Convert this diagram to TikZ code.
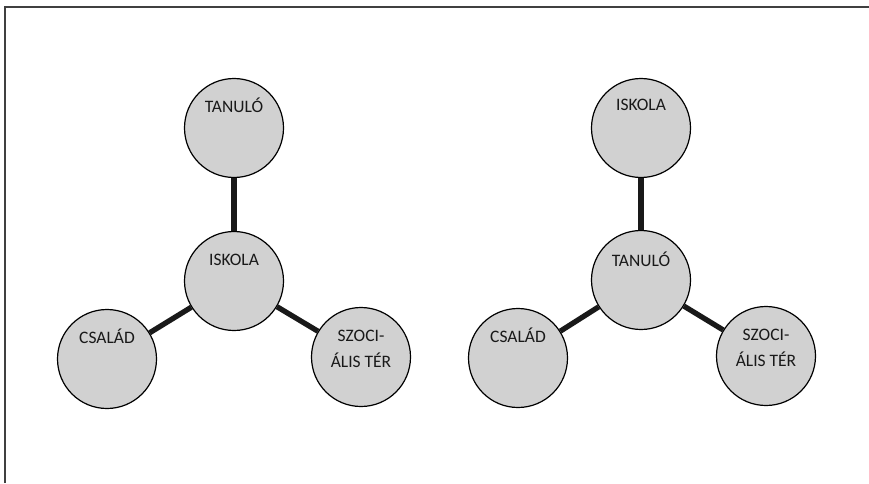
\documentclass[tikz,border=0pt]{standalone}
\usepackage{fontspec}
\setmainfont{Carlito}
\usepackage{tikz}

\begin{document}
\begin{tikzpicture}[x=1pt,y=1pt]
        \useasboundingbox (0,0) rectangle (869,483);
        % frame, top and left side only
        \draw[line width=1.6pt,black!75] (5,0) -- (5,476) -- (869,476);

        \begin{scope}[every node/.style={fill=black!18,circle,draw=black,line width=1.2pt,minimum size=99pt},
                      every label/.style={fill=none,draw=none,rectangle,minimum size=0pt,inner sep=0pt,
                                          align=center,text=black!90,font=\fontsize{17.5}{26}\selectfont}]
            % left group
            \node[label={[yshift=23pt]center:TANULÓ}] (1) at (234,355) {};
            \node[label={[yshift=21pt]center:ISKOLA}] (2) at (234,202) {};
            \node[label={[yshift=23pt]center:CSALÁD}] (3) at (107,124) {};
            \node[label={[yshift=8pt]center:SZOCI-\\ÁLIS TÉR}] (4) at (361,126) {};

            % right group
            \node[label={[yshift=23pt]center:ISKOLA}] (5) at (641,355) {};
            \node[label={[yshift=21pt]center:TANULÓ}] (6) at (641,203) {};
            \node[label={[yshift=23pt]center:CSALÁD}] (7) at (518,125) {};
            \node[label={[yshift=8pt]center:SZOCI-\\ÁLIS TÉR}] (8) at (766,127) {};
        \end{scope}
        \begin{scope}[every edge/.style={draw=black!90,line width=5.3pt}]
            \path [-] (2) edge (1);
            \path [-] (2) edge (3);
            \path [-] (2) edge (4);

            \path [-] (6) edge (5);
            \path [-] (6) edge (7);
            \path [-] (6) edge (8);
        \end{scope}
    \end{tikzpicture}
\end{document}
